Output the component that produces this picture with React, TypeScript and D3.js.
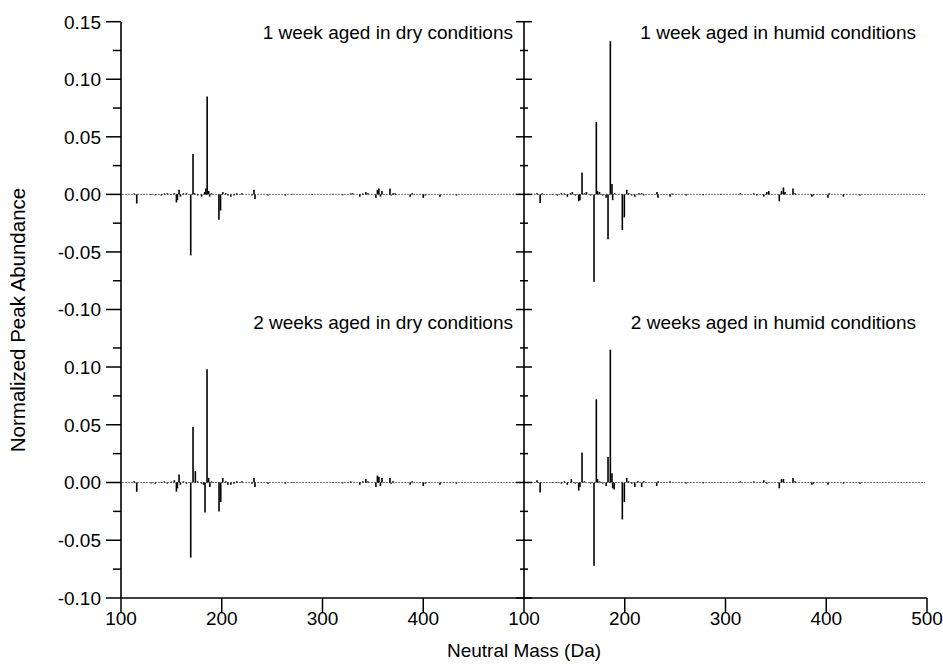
import React from "react";
import * as d3 from "d3";

// ---- data (mass in Da, normalized abundance difference) ----
const dry1Mass = [113, 115.6, 130, 134, 140, 143, 146, 150, 153, 155, 156, 157.6, 159, 162, 165, 169.2, 171.5, 173, 176, 180, 183, 184.2, 185.5, 187, 188, 190, 197.2, 198.8, 201, 204, 206, 209, 212, 215, 220, 230, 232, 233, 246, 263, 270, 290, 310, 320, 328, 330, 337, 340, 343, 345, 353, 354.5, 356, 357.5, 359, 367, 368, 370, 372, 387, 389, 400, 402, 416.6, 433];
const dry1Val = [0.0008, -0.008, -0.0005, -0.0008, -0.001, 0.0008, 0.001, -0.0005, 0.001, -0.007, -0.005, 0.004, -0.002, 0.001, 0.001, -0.053, 0.035, 0.001, -0.001, -0.002, 0.002, 0.005, 0.085, 0.003, -0.002, 0.001, -0.022, -0.014, 0.002, 0.001, -0.001, -0.002, -0.001, 0.001, 0.001, -0.001, 0.004, -0.004, -0.001, -0.001, 0.0005, -0.0005, 0.0005, -0.0008, 0.0008, 0.001, -0.002, 0.0008, 0.002, 0.001, -0.003, 0.004, 0.005, -0.002, 0.003, 0.005, -0.001, 0.001, 0.001, -0.002, 0.001, -0.003, -0.001, -0.002, -0.001];

const humid1Mass = [113, 116, 118, 128, 133, 137, 140, 143, 146, 148, 151, 154.3, 155.5, 157.6, 160, 162, 166, 169.5, 171.8, 173, 175, 178, 181.5, 183.4, 185.7, 187.3, 188, 190, 197.6, 199.6, 202, 204, 207, 210, 214, 216.8, 219, 232, 233, 245, 247, 261, 278, 295, 314.7, 328, 331, 338, 341, 343, 353.4, 355.6, 357.5, 359, 367, 369, 385.6, 387, 401.7, 403, 417, 433.5];
const humid1Val = [0.001, -0.0075, 0.001, -0.0005, -0.001, 0.001, 0.0008, -0.002, 0.001, 0.002, -0.001, -0.006, -0.005, 0.019, 0.001, 0.002, -0.001, -0.076, 0.063, 0.003, 0.002, -0.001, -0.003, -0.039, 0.133, 0.009, -0.005, 0.001, -0.031, -0.02, 0.004, 0.001, -0.001, -0.002, 0.001, 0.001, -0.001, 0.002, -0.003, -0.002, 0.0008, -0.001, -0.0008, 0.0005, 0.001, 0.001, -0.001, -0.002, 0.002, 0.003, -0.006, 0.003, 0.006, 0.002, 0.005, 0.001, -0.002, -0.001, -0.003, 0.001, -0.002, -0.001];

const dry2Mass = [113, 115.6, 130, 134, 140, 143, 146, 150, 153, 155, 156, 157.6, 159, 162, 165, 169.2, 171.5, 173.8, 176, 180, 182, 183.4, 185.4, 187, 188.2, 190, 197.3, 199, 201, 204, 206, 209, 212, 215, 220, 230, 232, 233, 246, 263, 270, 310, 320, 328, 337, 340, 343, 345, 353, 354.5, 356, 357.5, 359, 367, 368, 370, 387, 389, 400, 402, 416.6, 433];
const dry2Val = [0.001, -0.008, -0.0008, -0.001, -0.0005, 0.001, -0.001, 0.0008, 0.002, -0.008, -0.005, 0.007, -0.002, 0.001, -0.001, -0.065, 0.048, 0.01, 0.001, -0.001, -0.002, -0.026, 0.098, 0.004, -0.004, 0.001, -0.025, -0.017, 0.004, 0.001, -0.002, -0.002, -0.001, 0.001, 0.001, -0.001, 0.004, -0.004, -0.001, -0.001, 0.0005, 0.0005, -0.0008, 0.001, -0.002, 0.001, 0.003, 0.001, -0.004, 0.006, 0.005, -0.003, 0.004, 0.004, -0.001, 0.001, -0.002, 0.001, -0.003, -0.001, -0.002, -0.001];

const humid2Mass = [113, 116, 128, 133, 137, 140, 143, 147, 151, 154.3, 155.5, 157.6, 160, 166, 169.5, 171.8, 173, 175, 178, 181.5, 183.4, 185.7, 187.3, 188, 189.5, 197.6, 199.6, 202, 204, 207, 210, 213, 216.8, 219, 231.7, 233, 245, 261, 278, 295, 314.7, 328, 338, 341, 353.4, 355.6, 357.5, 367, 369, 385.6, 387, 401.7, 417, 433.5];
const humid2Val = [0.002, -0.0087, -0.0005, 0.0005, -0.001, 0.001, -0.002, 0.003, -0.001, -0.007, -0.004, 0.026, 0.001, -0.001, -0.072, 0.072, 0.003, 0.001, -0.001, -0.003, 0.022, 0.115, 0.008, -0.005, -0.006, -0.032, -0.017, 0.004, 0.001, -0.001, -0.004, 0.001, -0.004, 0.001, -0.003, 0.001, 0.001, -0.001, -0.0008, 0.0005, 0.001, 0.001, 0.002, -0.001, -0.005, 0.003, 0.003, 0.004, 0.001, -0.002, -0.001, -0.002, -0.001, -0.001];

const panelTitles = [
  "1 week aged in dry conditions",
  "1 week aged in humid conditions",
  "2 weeks aged in dry conditions",
  "2 weeks aged in humid conditions",
];

const xTicksLeft = [100, 200, 300, 400];
const xTicksRight = [100, 200, 300, 400, 500];
const yMajorTop = [-0.1, -0.05, 0, 0.05, 0.1, 0.15];
const yMinorTop = [-0.075, -0.025, 0.025, 0.075, 0.125];
const yMajorBottom = [-0.1, -0.05, 0, 0.05, 0.1];
const yMinorBottom = [-0.075, -0.025, 0.025, 0.075, 0.1165];

const xTitle = "Neutral Mass (Da)";
const yTitle = "Normalized Peak Abundance";

const W = 943;
const H = 668;
const FONT = "'Liberation Sans', Arial, Helvetica, sans-serif";
const FS = 19;

export default function App() {
  const xLeft = d3.scaleLinear().domain([100, 500]).range([121, 524]);
  const xRight = d3.scaleLinear().domain([100, 500]).range([524, 927]);
  const yTop = d3.scaleLinear().domain([-0.1, 0.15]).range([309.5, 21.7]);
  const yBottom = d3.scaleLinear().domain([-0.1, 0.1]).range([598, 367]);

  const panels = [
    { x: xLeft, y: yTop, mass: dry1Mass, val: dry1Val, title: panelTitles[0] },
    { x: xRight, y: yTop, mass: humid1Mass, val: humid1Val, title: panelTitles[1] },
    { x: xLeft, y: yBottom, mass: dry2Mass, val: dry2Val, title: panelTitles[2] },
    { x: xRight, y: yBottom, mass: humid2Mass, val: humid2Val, title: panelTitles[3] },
  ];

  const fmt = (v: number) => d3.format(".2f")(v).replace("\u2212", "-");
  const axisX0 = xLeft(100);
  const axisX1 = xRight(100);
  const axisBottomY = yBottom(-0.1);
  const axisTopY = yTop(0.15);

  return (
    <svg
      width={W}
      height={H}
      style={{ position: "absolute", left: 0, top: 0, background: "#fff" }}
      fontFamily={FONT}
    >
      <rect x={0} y={0} width={W} height={H} fill="#fff" />
      {panels.map((p, i) => {
        const [r0, r1] = p.x.range();
        const y0 = p.y(0);
        return (
          <g key={i}>
            <line x1={r0 + 1} x2={r1 - 2} y1={y0} y2={y0} stroke="#7a7a7a" strokeWidth={1} strokeDasharray="2,1" />
            {p.mass.map((m, j) => (
              <line
                key={j}
                x1={p.x(m)}
                x2={p.x(m)}
                y1={y0}
                y2={p.y(p.val[j])}
                stroke="#000"
                strokeWidth={1.6}
              />
            ))}
            <text x={r1 - 11} y={p.y === yTop ? 39 : 329} textAnchor="end" fontSize={FS} fill="#000">
              {p.title}
            </text>
          </g>
        );
      })}

      {/* left y axis */}
      <line x1={axisX0} x2={axisX0} y1={axisTopY} y2={axisBottomY} stroke="#000" strokeWidth={1.6} />
      {/* right y axis */}
      <line x1={axisX1} x2={axisX1} y1={axisTopY} y2={axisBottomY} stroke="#000" strokeWidth={1.6} />
      {/* bottom x axis */}
      <line x1={axisX0} x2={xRight(500)} y1={axisBottomY} y2={axisBottomY} stroke="#000" strokeWidth={1.6} />

      {[{ s: yTop, maj: yMajorTop, min: yMinorTop }, { s: yBottom, maj: yMajorBottom, min: yMinorBottom }].map((a, k) => (
        <g key={"ya" + k}>
          {a.maj.map((v) => (
            <g key={"M" + v}>
              <line x1={axisX0 - 15} x2={axisX0} y1={a.s(v)} y2={a.s(v)} stroke="#000" strokeWidth={1.5} />
              <line x1={axisX1 - 8} x2={axisX1 + 8} y1={a.s(v)} y2={a.s(v)} stroke="#000" strokeWidth={1.5} />
              <text x={axisX0 - 20} y={a.s(v)} dy="0.36em" textAnchor="end" fontSize={FS} fill="#000">
                {fmt(v)}
              </text>
            </g>
          ))}
          {a.min.map((v) => (
            <g key={"m" + v}>
              <line x1={axisX0 - 8} x2={axisX0} y1={a.s(v)} y2={a.s(v)} stroke="#000" strokeWidth={1.5} />
              <line x1={axisX1 - 4} x2={axisX1 + 4} y1={a.s(v)} y2={a.s(v)} stroke="#000" strokeWidth={1.5} />
            </g>
          ))}
        </g>
      ))}

      {[{ s: xLeft, t: xTicksLeft }, { s: xRight, t: xTicksRight }].map((a, k) => (
        <g key={"xa" + k}>
          {a.t.map((v) => (
            <g key={v}>
              <line x1={a.s(v)} x2={a.s(v)} y1={axisBottomY} y2={axisBottomY + 15} stroke="#000" strokeWidth={1.5} />
              <text x={a.s(v)} y={625} textAnchor="middle" fontSize={FS} fill="#000">
                {v}
              </text>
            </g>
          ))}
        </g>
      ))}

      <text x={axisX1} y={657} textAnchor="middle" fontSize={FS} fill="#000">
        {xTitle}
      </text>
      <text
        transform={`translate(25, 320) rotate(-90)`}
        textAnchor="middle"
        fontSize={20.5}
        fill="#000"
      >
        {yTitle}
      </text>
    </svg>
  );
}
